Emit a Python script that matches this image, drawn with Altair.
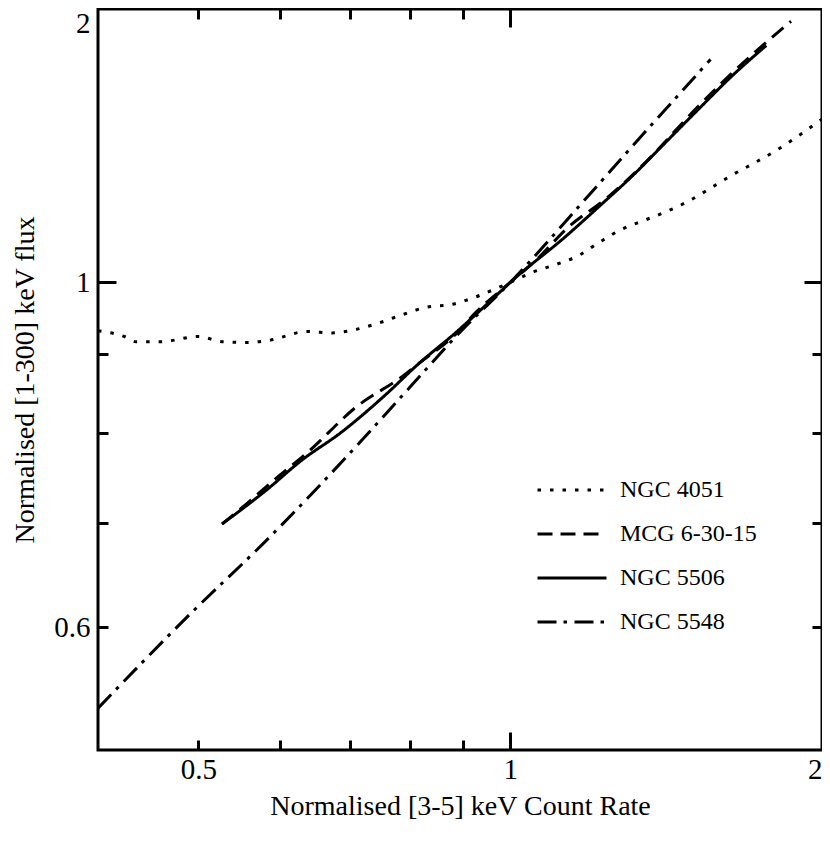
import altair as alt
import pandas as pd

FONT = "Liberation Serif"

names = ["NGC 4051", "MCG 6-30-15", "NGC 5506", "NGC 5548"]

x_4051 = [0.40, 0.424, 0.435, 0.46, 0.50, 0.527, 0.557, 0.586, 0.637, 0.673, 0.711,
          0.748, 0.789, 0.83, 0.878, 0.927, 0.976, 1.0, 1.05, 1.107, 1.165, 1.218,
          1.281, 1.345, 1.416, 1.486, 1.561, 1.635, 1.717, 1.802, 1.888, 2.0]
y_4051 = [0.931, 0.923, 0.916, 0.916, 0.923, 0.916, 0.915, 0.918, 0.930, 0.928, 0.933,
          0.942, 0.954, 0.964, 0.968, 0.979, 0.993, 1.0, 1.015, 1.027, 1.041, 1.061,
          1.082, 1.096, 1.111, 1.128, 1.150, 1.172, 1.193, 1.215, 1.240, 1.274]

x_mcg = [0.527, 0.552, 0.593, 0.637, 0.711, 0.787, 0.818, 0.887, 0.927, 1.0, 1.066,
         1.132, 1.245, 1.351, 1.510, 1.624, 1.767, 1.867]
y_mcg = [0.699, 0.717, 0.747, 0.777, 0.832, 0.870, 0.888, 0.927, 0.957, 1.0, 1.038,
         1.082, 1.136, 1.195, 1.293, 1.357, 1.428, 1.473]

x_5506 = [0.527, 0.583, 0.627, 0.689, 0.760, 0.812, 0.887, 0.976, 1.0, 1.132, 1.218,
          1.310, 1.413, 1.520, 1.635, 1.767]
y_5506 = [0.699, 0.736, 0.767, 0.802, 0.848, 0.884, 0.929, 0.985, 1.0, 1.071, 1.119,
          1.170, 1.231, 1.293, 1.357, 1.421]

x_5548 = [0.40, 0.484, 0.589, 0.716, 0.800, 0.893, 1.0, 1.191, 1.325, 1.480, 1.561]
y_5548 = [0.532, 0.606, 0.688, 0.789, 0.856, 0.928, 1.0, 1.138, 1.233, 1.338, 1.392]

# axis ticks / labels
x_label_values = [0.5, 1, 2]
x_minor_ticks = [0.5, 0.6, 0.7, 0.8, 0.9]
x_major_ticks = [1]
y_label_values = [0.6, 1, 1.5]
y_label_texts = ["0.6", "1", "2"]
y_minor_ticks = [0.6, 0.7, 0.8, 0.9]
y_major_ticks = [1]

dash_styles = [[3.5, 9], [15, 8], [1, 0], [19, 7, 3.5, 7.5]]

rows = []
for name, xs, ys in [(names[0], x_4051, y_4051), (names[1], x_mcg, y_mcg),
                     (names[2], x_5506, y_5506), (names[3], x_5548, y_5548)]:
    for i, (xv, yv) in enumerate(zip(xs, ys)):
        rows.append({"series": name, "x": xv, "y": yv, "i": i})
df = pd.DataFrame(rows)

xscale = alt.Scale(type="log", domain=[0.4, 2], nice=False)
yscale = alt.Scale(type="log", domain=[0.5, 1.5], nice=False)

y_label_expr = "''"
for v, t in zip(y_label_values, y_label_texts):
    y_label_expr = f"(abs(datum.value - {v}) < 1e-6 ? '{t}' : {y_label_expr})"

main = alt.Chart(df).mark_line(color="black", strokeWidth=3, strokeCap="butt",
                               interpolate="monotone", clip=True).encode(
    x=alt.X("x:Q", scale=xscale, axis=alt.Axis(
        orient="bottom", values=x_label_values, format="~g", labelFlush=True,
        ticks=False, domain=False, grid=False, labelFont=FONT, labelFontSize=29,
        labelColor="black", labelPadding=5,
        title="Normalised [3-5] keV Count Rate", titleFont=FONT, titleFontSize=28,
        titleFontWeight="normal", titleColor="black", titleBaseline="alphabetic",
        titleY=64)),
    y=alt.Y("y:Q", scale=yscale, axis=alt.Axis(
        orient="left", values=y_label_values, labelExpr=y_label_expr, labelFlush=True,
        labelFlushOffset=0,
        ticks=False, domain=False, grid=False, labelFont=FONT, labelFontSize=29,
        labelColor="black", labelPadding=8,
        title="Normalised [1-300] keV flux", titleFont=FONT, titleFontSize=28,
        titleFontWeight="normal", titleColor="black", titleBaseline="alphabetic",
        titleAngle=270, titleX=-65)),
    strokeDash=alt.StrokeDash("series:N", scale=alt.Scale(domain=names, range=dash_styles),
                              legend=alt.Legend(
                                  orient="none", legendX=461, legendY=468, title=None,
                                  symbolType="M-3,0H3", symbolSize=529,
                                  symbolStrokeWidth=3, symbolStrokeColor="black",
                                  labelFont=FONT, labelFontSize=24, labelColor="black",
                                  labelOffset=35, rowPadding=19, padding=0)),
    order="i:Q",
)


def tick_layer(xorient, xvals, yorient, yvals, size):
    return alt.Chart(df).mark_point(opacity=0).encode(
        x=alt.X("x:Q", scale=xscale, axis=alt.Axis(
            orient=xorient, values=xvals, tickSize=size, offset=-size, labels=False,
            domain=False, grid=False, title=None, tickWidth=3, tickColor="black")),
        y=alt.Y("y:Q", scale=yscale, axis=alt.Axis(
            orient=yorient, values=yvals, tickSize=size, offset=-size, labels=False,
            domain=False, grid=False, title=None, tickWidth=3, tickColor="black")),
    )


layers = [
    main,
    tick_layer("bottom", x_minor_ticks, "left", y_minor_ticks, 10),
    tick_layer("bottom", x_major_ticks, "left", y_major_ticks, 18),
    tick_layer("top", x_minor_ticks, "right", y_minor_ticks, 10),
    tick_layer("top", x_major_ticks, "right", y_major_ticks, 18),
]

chart = alt.layer(*layers).resolve_axis(x="independent", y="independent").properties(
    width=724, height=741,
    autosize=alt.AutoSizeParams(type="none"),
    padding={"left": 90, "top": 1, "right": 0, "bottom": 80},
    background="white",
).configure_view(stroke="black", strokeWidth=3)

chart.save("out.html", embed_options={"renderer": "svg", "actions": False})
